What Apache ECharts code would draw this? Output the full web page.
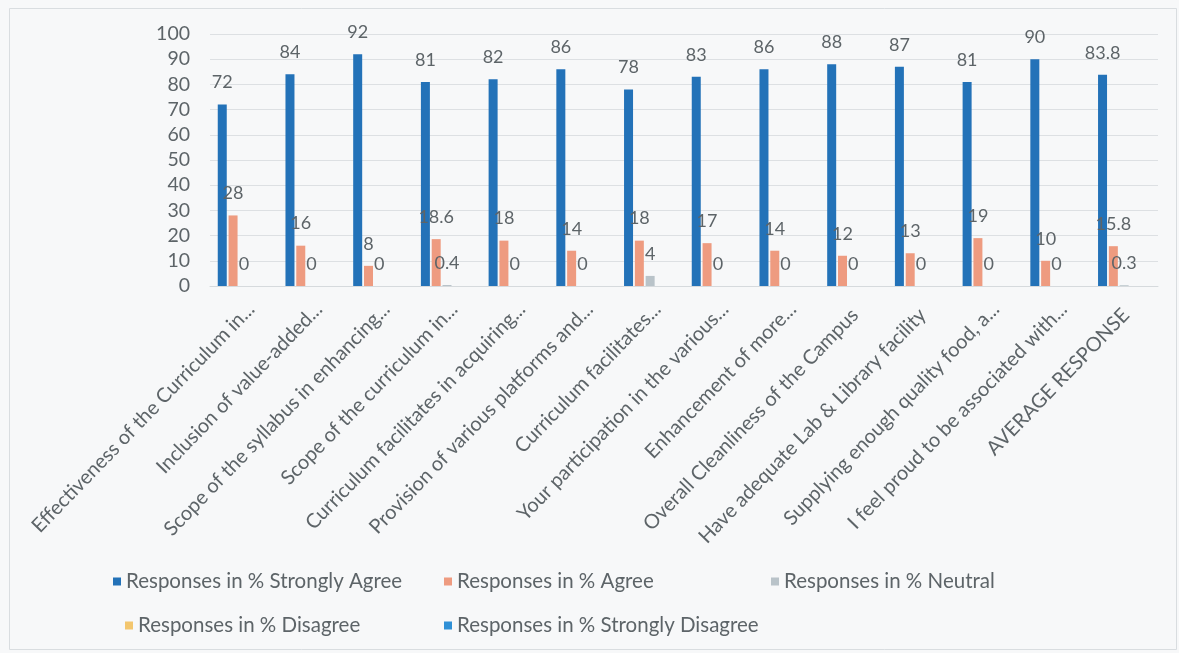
<!DOCTYPE html>
<html>
<head>
<meta charset="utf-8">
<script src="https://cdn.jsdelivr.net/npm/echarts@6/dist/echarts.min.js"></script>
<style>
html,body{margin:0;padding:0;background:#f7f8f9;}
#chart{width:1179px;height:653px;}
</style>
</head>
<body>
<div id="chart"></div>
<script>
const categories = [
  "Effectiveness of the Curriculum in...",
  "Inclusion of value-added...",
  "Scope of the syllabus in enhancing...",
  "Scope of the curriculum in...",
  "Curriculum facilitates in acquiring...",
  "Provision of various platforms and...",
  "Curriculum facilitates...",
  "Your participation in the various...",
  "Enhancement of more...",
  "Overall Cleanliness of the Campus",
  "Have adequate Lab & Library facility",
  "Supplying enough quality food, a...",
  "I feel proud to be associated with...",
  "AVERAGE RESPONSE"
];
const stronglyAgree = [72, 84, 92, 81, 82, 86, 78, 83, 86, 88, 87, 81, 90, 83.8];
const agree = [28, 16, 8, 18.6, 18, 14, 18, 17, 14, 12, 13, 19, 10, 15.8];
const neutral = [0, 0, 0, 0.4, 0, 0, 4, 0, 0, 0, 0, 0, 0, 0.3];
const disagree = [0, 0, 0, 0, 0, 0, 0, 0, 0, 0, 0, 0, 0, 0];
const stronglyDisagree = [0, 0, 0, 0, 0, 0, 0, 0, 0, 0, 0, 0, 0, 0];
const seriesNames = [
  "Responses in % Strongly Agree",
  "Responses in % Agree",
  "Responses in % Neutral",
  "Responses in % Disagree",
  "Responses in % Strongly Disagree"
];

const FONT = "Lato";
const TXT = "#5d6468";
const colors = ["#2372b8", "#ee9b80", "#b9c3c9", "#f3c66e", "#2f90d6"];

const chart = echarts.init(document.getElementById('chart'));

function barSeries(idx, data, showLabel) {
  return {
    name: seriesNames[idx],
    type: 'bar',
    data: data,
    barWidth: 9,
    barGap: '20%',
    itemStyle: { color: colors[idx] },
    label: {
      show: showLabel,
      position: 'top',
      distance: 13,
      fontFamily: FONT,
      fontSize: 18,
      color: TXT
    },
    emphasis: { disabled: true },
    animation: false
  };
}

function legendAt(idx, left, top) {
  return {
    data: [seriesNames[idx]],
    left: left,
    top: top,
    padding: 0,
    icon: 'rect',
    itemWidth: 8,
    itemHeight: 8,
    itemGap: 0,
    selectedMode: false,
    textStyle: { fontFamily: FONT, fontSize: 20.5, color: TXT }
  };
}

chart.setOption({
  backgroundColor: '#f7f8f9',
  animation: false,
  textStyle: { fontFamily: FONT },
  grid: { left: 210, right: 21, top: 34, bottom: 367, containLabel: false },
  graphic: [{
    type: 'rect',
    shape: { x: 9.5, y: 8.5, width: 1167, height: 641 },
    style: { fill: 'none', stroke: '#d9dde0', lineWidth: 1 },
    silent: true
  }],
  xAxis: {
    type: 'category',
    data: categories,
    axisLine: { show: true, lineStyle: { color: '#d6dadd' } },
    axisTick: { show: false },
    axisLabel: {
      interval: 0,
      rotate: 46,
      margin: 13,
      verticalAlign: 'top',
      formatter: function (v) {
        return v.endsWith('...') ? '{t|' + v + '}' : '{f|' + v + '}';
      },
      rich: {
        t: { fontFamily: FONT, fontSize: 20, color: TXT },
        f: { fontFamily: FONT, fontSize: 20, color: TXT, padding: [0, 8, 0, 0] }
      }
    }
  },
  yAxis: {
    type: 'value',
    min: 0,
    max: 100,
    interval: 10,
    axisLine: { show: false },
    axisTick: { show: false },
    splitLine: { lineStyle: { color: '#dde0e3' } },
    axisLabel: { fontFamily: FONT, fontSize: 19.5, color: TXT, margin: 20 }
  },
  legend: [
    legendAt(0, 113, 571),
    legendAt(1, 444, 571),
    legendAt(2, 771, 571),
    legendAt(3, 125, 615),
    legendAt(4, 444, 615)
  ],
  series: [
    barSeries(0, stronglyAgree, true),
    barSeries(1, agree, true),
    barSeries(2, neutral, true),
    barSeries(3, disagree, false),
    barSeries(4, stronglyDisagree, false)
  ]
});
</script>
</body>
</html>
